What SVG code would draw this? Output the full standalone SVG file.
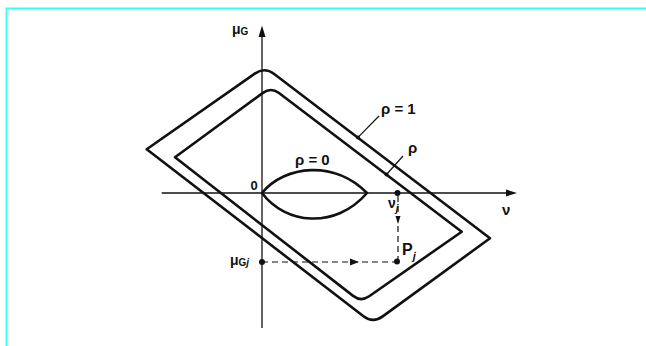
<svg xmlns="http://www.w3.org/2000/svg" width="646" height="346" viewBox="0 0 646 346">
<style>
.shape{fill:none;stroke:#111;stroke-width:2.6;stroke-linejoin:round}
.axis{stroke:#111;stroke-width:1.3;fill:none}
.dash{stroke:#111;stroke-width:1.2;stroke-dasharray:6 4;fill:none}
.lead{stroke:#111;stroke-width:1.2;fill:none}
.head{fill:#111}
text{font-family:"Liberation Sans",Arial,sans-serif;fill:#111;font-weight:bold}
</style>
<rect width="646" height="346" fill="#fff"/>
<path d="M6.5,346 V8.5 H646" fill="none" stroke="#3ff" stroke-width="1.8"/>
<g id="outer">
<path class="shape" d="M146.7,149.3 L254.8,73.6 Q264.6,66.7 274.2,74 L490,238.3 L382.7,316.4 Q373,323.5 363.5,316.2 Z"/>
</g>
<g id="inner">
<path class="shape" d="M175,157.3 L262.9,92.9 Q271,87 279,93 L461.7,231.7 L369.2,296.3 Q361,302 353.1,295.9 Z"/>
</g>
<g id="lens">
<path class="shape" d="M262,193 C285,165 335,160 367,193 C335,230 285,224 262,193 Z"/>
</g>
<g id="axes">
<path class="axis" d="M161.7,193 H508"/>
<polygon class="head" points="517,193 506,189.5 506,196.5"/>
<path class="axis" d="M262,328 V35"/>
<polygon class="head" points="262,25.5 258.5,37 265.5,37"/>
</g>
<g id="connectors">
<path class="dash" d="M398,196 V259"/>
<polygon class="head" points="398,224 395.5,216 400.5,216"/>
<path class="dash" d="M262,262 H397"/>
<polygon class="head" points="359,262 350,258.5 350,265.5"/>
<path class="lead" d="M379,116 L358,137.4"/>
<circle cx="358" cy="137.4" r="2" class="head"/>
<path class="lead" d="M403,156 L386.5,174.5"/>
<circle cx="386.5" cy="174.5" r="2" class="head"/>
</g>
<g id="points">
<circle cx="397.5" cy="193" r="3" class="head"/>
<circle cx="397" cy="261.5" r="3" class="head"/>
<circle cx="262" cy="262" r="3" class="head"/>
</g>
<g id="labels">
<text x="232" y="34" font-size="14">μ<tspan font-size="10" dy="1">G</tspan></text>
<text x="230" y="265" font-size="14">μ<tspan font-size="10" dy="1">G<tspan font-style="italic">j</tspan></tspan></text>
<text x="250.5" y="190" font-size="13">0</text>
<text x="295" y="165" font-size="15">ρ = 0</text>
<text x="381" y="114" font-size="15">ρ = 1</text>
<text x="408" y="153" font-size="15">ρ</text>
<text x="502" y="215" font-size="15" font-weight="normal">ν</text>
<text x="388" y="208" font-size="14">ν<tspan font-size="10" dy="4" font-style="italic">j</tspan></text>
<text x="402" y="255" font-size="16">P<tspan font-size="11" dy="5" font-style="italic">j</tspan></text>
</g>
</svg>
